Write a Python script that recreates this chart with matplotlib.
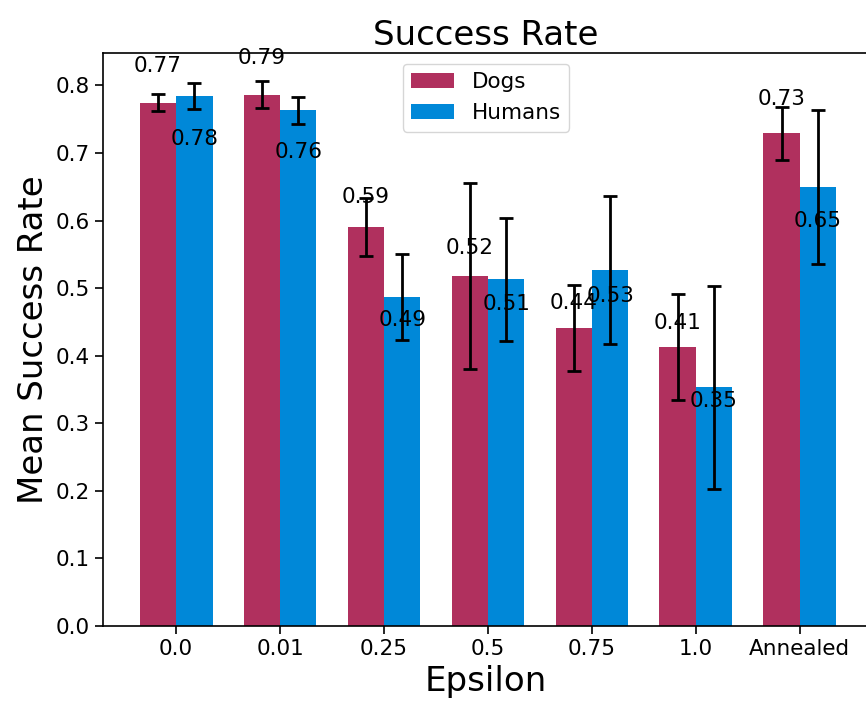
import numpy as np
import matplotlib
matplotlib.use("Agg")
import matplotlib.pyplot as plt

# values
epsilons = ["0.0", "0.01", "0.25", "0.5", "0.75", "1.0", "Annealed"]
dogs_mean = [0.7745, 0.786, 0.591, 0.518, 0.441, 0.413, 0.729]
dogs_err = [0.013, 0.020, 0.043, 0.138, 0.064, 0.078, 0.039]
humans_mean = [0.784, 0.763, 0.487, 0.513, 0.527, 0.353, 0.649]
humans_err = [0.019, 0.020, 0.064, 0.091, 0.109, 0.150, 0.114]

dog_color = "#b0305e"
human_color = "#0088d8"

x = np.arange(len(epsilons))
width = 0.35

fig = plt.figure(figsize=(8.66, 7.02), dpi=100)
ax = fig.add_axes([103 / 866, 76 / 702, 766 / 866, 573 / 702])

err_style = dict(elinewidth=2, capthick=2, capsize=5, ecolor="black")
b1 = ax.bar(x - width / 2, dogs_mean, width, yerr=dogs_err, color=dog_color,
            label="Dogs", error_kw=err_style)
b2 = ax.bar(x + width / 2, humans_mean, width, yerr=humans_err, color=human_color,
            label="Humans", error_kw=err_style)

# value labels: dogs above, humans below the bar top
for rect in b1:
    h = rect.get_height()
    ax.text(rect.get_x() + rect.get_width() / 2, 1.05 * h, "%.2f" % h,
            ha="center", va="bottom", fontsize=15.5)
for rect in b2:
    h = rect.get_height()
    ax.text(rect.get_x() + rect.get_width() / 2, 0.9 * h, "%.2f" % h,
            ha="center", va="bottom", fontsize=15.5)

ax.set_xticks(x)
ax.set_xticklabels(epsilons)
ax.tick_params(labelsize=15.5, length=6, width=1.2)
ax.set_xlim(-0.704, 6.666)
ax.set_ylim(0, 0.848)
ax.set_yticks(np.arange(0, 0.81, 0.1))
ax.set_xlabel("Epsilon", fontsize=24.5)
ax.set_ylabel("Mean Success Rate", fontsize=24.5)
ax.set_title("Success Rate", fontsize=24.5)
ax.legend(loc="upper center", fontsize=15.5)
for s in ax.spines.values():
    s.set_linewidth(1.2)

fig.savefig("out.png", dpi=100)
